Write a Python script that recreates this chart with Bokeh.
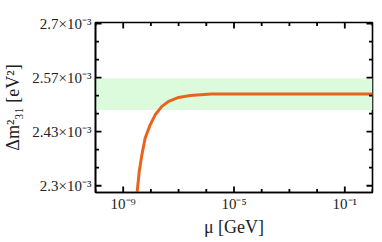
import numpy as np
from bokeh.plotting import figure
from bokeh.models import (FixedTicker, LogAxis, LinearAxis, CustomJSTickFormatter,
                          ColumnDataSource, Range1d, BoxAnnotation, LogScale)
from bokeh.embed import file_html
from bokeh.resources import INLINE

# ---- data (Δm²31 in units of 1e-3 eV²) ----
log_mu = [-8.53, -8.495, -8.42, -8.325, -8.206, -8.025, -7.845, -7.603, -7.36,
          -7.0, -6.58, -5.83, -5.0, -3.0, -1.0, 0.0]
dm31 = [2.265, 2.2862, 2.3355, 2.3764, 2.4175, 2.4502, 2.4749, 2.4956, 2.5079,
        2.5177, 2.5227, 2.5259, 2.526, 2.526, 2.526, 2.526]
band_low = 2.487
band_high = 2.565

xticks = [1e-9, 1e-5, 1e-1]
xtick_labels = ["10\u207b\u2079", "10\u207b\u2075", "10\u207b\u00b9"]
xminor = [1e-10, 1e-8, 1e-7, 1e-6, 1e-4, 1e-3, 1e-2, 1e0]
yticks = [2.3, 2.3 + 0.4 / 3, 2.3 + 0.8 / 3, 2.7]
ytick_labels = ["2.3\u00d710\u207b\u00b3", "2.43\u00d710\u207b\u00b3",
                "2.57\u00d710\u207b\u00b3", "2.7\u00d710\u207b\u00b3"]
yminor = [2.3 + 0.4 * k / 9 for k in range(10) if k % 3 != 0]

mu = [10 ** v for v in log_mu]
src = ColumnDataSource(dict(mu=mu, dm=dm31))

FONT = "Liberation Serif"
X0, X1 = 1e-10, 1e0
Y0, Y1 = 2.2833, 2.7025

p = figure(frame_width=277, frame_height=170, x_axis_type=None, y_axis_type=None,
           x_range=Range1d(X0, X1), y_range=Range1d(Y0, Y1),
           output_backend="svg", toolbar_location=None,
           min_border_left=89, min_border_right=6, min_border_top=22,
           min_border_bottom=10)
p.x_scale = LogScale()
p.grid.visible = False
p.outline_line_color = "black"
p.outline_line_width = 1.6
p.background_fill_color = None
p.border_fill_color = None

p.add_layout(BoxAnnotation(bottom=band_low, top=band_high, fill_color="#DCFADC",
                           fill_alpha=1.0, line_alpha=0, level="underlay"))
p.line("mu", "dm", source=src, line_color="#E8641E", line_width=3)

# inward ticks on all four frame sides, drawn as short screen-length rays
TK = dict(line_color="black", line_width=1.8, length_units="screen")
for xs, ln in ((xticks, 6), (xminor, 3.5)):
    p.ray(x=xs, y=[Y0] * len(xs), length=ln, angle=np.pi / 2, **TK)
    p.ray(x=xs, y=[Y1] * len(xs), length=ln, angle=-np.pi / 2, **TK)
for ys, ln in ((yticks, 6), (yminor, 3.5)):
    p.ray(x=[X0] * len(ys), y=ys, length=ln, angle=0, **TK)
    p.ray(x=[X1] * len(ys), y=ys, length=ln, angle=np.pi, **TK)

xfmt = CustomJSTickFormatter(args=dict(tv=xticks, lab=xtick_labels), code="""
const i = tv.findIndex(t => Math.abs(Math.log10(t) - Math.log10(tick)) < 1e-6);
return i >= 0 ? lab[i] : '';
""")
yfmt = CustomJSTickFormatter(args=dict(tv=yticks, lab=ytick_labels), code="""
const i = tv.findIndex(t => Math.abs(t - tick) < 1e-6);
return i >= 0 ? lab[i] : '';
""")


def style(ax):
    ax.major_tick_in = 0
    ax.major_tick_out = 0
    ax.minor_tick_in = 0
    ax.minor_tick_out = 0
    ax.axis_line_color = "black"
    ax.axis_line_width = 1.6
    ax.major_label_text_font = FONT
    ax.major_label_text_font_size = "15px"
    ax.major_label_text_color = "#222222"
    ax.axis_label_text_font = FONT
    ax.axis_label_text_font_size = "18px"
    ax.axis_label_text_font_style = "normal"
    ax.axis_label_text_color = "#222222"


xt = FixedTicker(ticks=xticks, minor_ticks=[])
yt = FixedTicker(ticks=yticks, minor_ticks=[])

xb = LogAxis(ticker=xt, formatter=xfmt, axis_label="\u03bc [GeV]")
style(xb)
xb.major_label_standoff = 3
xb.axis_label_standoff = 2
yl = LinearAxis(ticker=yt, formatter=yfmt, axis_label="\u0394m\u00b2\u2083\u2081 [eV\u00b2]")
style(yl)
yl.major_label_standoff = 4
yl.axis_label_standoff = 6

p.add_layout(xb, "below")
p.add_layout(yl, "left")

open("out.html", "w").write(file_html(p, INLINE))
